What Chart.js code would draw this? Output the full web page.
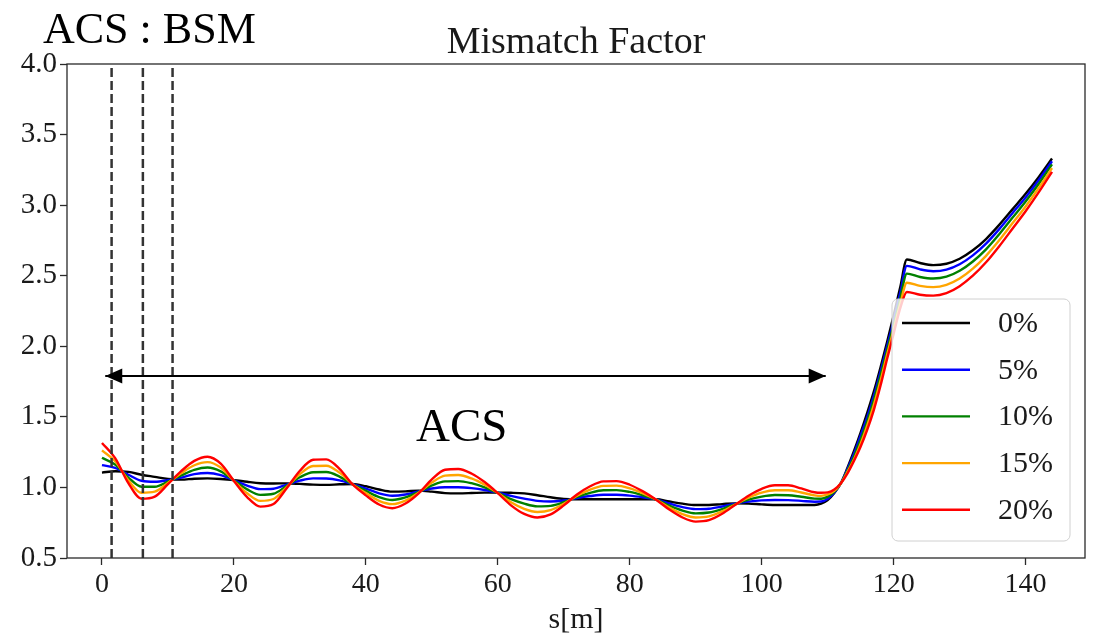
<!DOCTYPE html>
<html><head><meta charset="utf-8">
<script src="https://cdn.jsdelivr.net/npm/chart.js@4/dist/chart.umd.min.js"></script>
<style>html,body{margin:0;padding:0;background:#fff;} canvas{display:block;}</style>
</head><body>
<canvas id="c" width="1095" height="642"></canvas>
<script>
// ---- data ----
const s = [0,2,4,6,8,10,12,14,16,18,20,22,24,26,28,30,32,34,36,38,40,42,44,46,48,50,52,54,56,58,60,62,64,66,68,70,72,74,76,78,80,82,84,86,88,90,92,94,96,98,100,102,104,106,108,
  109,110,111,112,113,114,115,116,117,118,119,120,121,122,
  124,126,128,130,132,134,136,138,140,142,144];
const mf0 = [1.105,1.115,1.110,1.090,1.075,1.060,1.055,1.062,1.064,1.060,
  1.052,1.040,1.030,1.028,1.029,1.025,1.020,1.018,1.022,1.024,
  1.008,0.985,0.970,0.972,0.977,0.970,0.960,0.958,0.960,0.963,
  0.963,0.962,0.958,0.945,0.930,0.918,0.916,0.916,0.916,0.916,
  0.916,0.916,0.916,0.900,0.885,0.875,0.876,0.882,0.887,0.885,
  0.880,0.876,0.875,0.875,0.876,
  0.885,0.910,0.960,1.030,1.140,1.260,1.390,1.530,1.680,1.850,2.030,2.220,2.420,2.615,
  2.590,2.575,2.585,2.620,2.680,2.760,2.860,2.970,3.080,3.200,3.330];
const mf5 = [1.158,1.138,1.090,1.047,1.040,1.051,1.070,1.094,1.102,1.087,
  1.050,1.013,0.988,0.991,1.020,1.048,1.064,1.063,1.050,1.023,
  0.992,0.958,0.941,0.950,0.972,0.992,1.001,1.001,0.995,0.982,
  0.962,0.940,0.921,0.905,0.900,0.907,0.925,0.939,0.948,0.948,
  0.942,0.930,0.915,0.886,0.860,0.846,0.849,0.865,0.884,0.899,
  0.908,0.911,0.910,0.905,0.899,
  0.900,0.920,0.965,1.030,1.130,1.240,1.370,1.500,1.650,1.820,2.000,2.180,2.380,2.570,
  2.545,2.532,2.543,2.581,2.644,2.727,2.830,2.943,3.055,3.178,3.311];
const mf10 = [1.210,1.162,1.070,1.005,1.005,1.041,1.085,1.125,1.141,1.114,
  1.049,0.986,0.947,0.955,1.011,1.072,1.108,1.109,1.077,1.022,
  0.976,0.932,0.911,0.929,0.967,1.014,1.043,1.045,1.030,1.001,
  0.961,0.917,0.885,0.866,0.869,0.895,0.933,0.962,0.980,0.981,
  0.968,0.944,0.914,0.871,0.836,0.816,0.822,0.847,0.882,0.913,
  0.935,0.946,0.945,0.934,0.921,
  0.920,0.935,0.970,1.030,1.120,1.220,1.340,1.470,1.620,1.790,1.970,2.150,2.340,2.515,
  2.491,2.480,2.493,2.535,2.601,2.687,2.794,2.910,3.026,3.152,3.289];
const mf15 = [1.263,1.185,1.051,0.962,0.970,1.032,1.100,1.157,1.179,1.141,
  1.047,0.959,0.905,0.918,1.003,1.095,1.152,1.154,1.105,1.022,
  0.960,0.905,0.882,0.907,0.963,1.035,1.084,1.088,1.064,1.019,
  0.960,0.895,0.848,0.826,0.839,0.884,0.942,0.985,1.011,1.013,
  0.993,0.958,0.914,0.857,0.811,0.787,0.795,0.830,0.879,0.927,
  0.963,0.980,0.980,0.964,0.944,
  0.940,0.950,0.975,1.030,1.110,1.200,1.310,1.440,1.585,1.755,1.940,2.120,2.300,2.450,
  2.428,2.419,2.435,2.480,2.550,2.641,2.751,2.871,2.991,3.122,3.262];
const mf20 = [1.315,1.208,1.031,0.920,0.935,1.023,1.115,1.188,1.217,1.168,
  1.046,0.932,0.864,0.882,0.994,1.118,1.196,1.199,1.132,1.021,
  0.944,0.879,0.853,0.886,0.958,1.057,1.125,1.131,1.099,1.038,
  0.959,0.873,0.812,0.787,0.809,0.873,0.950,1.008,1.043,1.045,
  1.019,0.972,0.913,0.843,0.787,0.758,0.768,0.813,0.877,0.941,
  0.990,1.015,1.015,0.993,0.966,
  0.962,0.965,0.985,1.030,1.100,1.190,1.290,1.410,1.550,1.720,1.910,2.090,2.270,2.385,
  2.365,2.359,2.377,2.426,2.500,2.595,2.709,2.833,2.957,3.092,3.236];
const seriesLabels = ['0%','5%','10%','15%','20%'];
const seriesColors = ['#000000','#0000ff','#008000','#ffa500','#ff0000'];
const bsmMarkers = [1.46, 6.2, 10.7];   // dashed vertical lines, s [m]
const acsArrow = [0.5, 109.7];          // arrow ends, s [m]
const arrowY = 1.79;
const xRange = [-5.3, 149];
const yRange = [0.5, 4.0];

// ---- build ----
const FONT = '"Liberation Serif", "Times New Roman", serif';
const TXT = '#1a1a1a';
const pts = arr => s.map((v,i)=>({x:v, y:arr[i]}));
const seriesData = [mf0, mf5, mf10, mf15, mf20];
const datasets = seriesData.map((arr,i)=>({
  label: seriesLabels[i], data: pts(arr), borderColor: seriesColors[i],
  borderWidth: 2.4, pointRadius: 0, tension: 0, cubicInterpolationMode:'monotone',
  fill:false, order: 10 - i, isSeries:true
}));
bsmMarkers.forEach(m=>datasets.push({
  label:'', data:[{x:m,y:yRange[0]},{x:m,y:yRange[1]}], borderColor:'#333',
  borderWidth:2.5, borderDash:[9,4], pointRadius:0, order:-1
}));
datasets.push({label:'', data:[{x:acsArrow[0],y:arrowY},{x:acsArrow[1],y:arrowY}],
  borderColor:'#000', borderWidth:2, pointRadius:0, order:-2});

const overlay = {
  id:'overlay',
  afterDatasetsDraw(chart){
    const {ctx, chartArea:a, scales:{x,y}} = chart;
    ctx.save();
    ctx.strokeStyle='#2a2a2a'; ctx.lineWidth=1.3;
    ctx.strokeRect(a.left, a.top, a.right-a.left, a.bottom-a.top);
    const py = y.getPixelForValue(arrowY);
    const lx = x.getPixelForValue(acsArrow[0]), rx = x.getPixelForValue(acsArrow[1]);
    ctx.fillStyle='#000';
    ctx.beginPath(); ctx.moveTo(rx,py); ctx.lineTo(rx-17,py-7.5); ctx.lineTo(rx-17,py+7.5); ctx.closePath(); ctx.fill();
    ctx.beginPath(); ctx.moveTo(lx,py); ctx.lineTo(lx+17,py-7.5); ctx.lineTo(lx+17,py+7.5); ctx.closePath(); ctx.fill();
    ctx.restore();
  },
  afterDraw(chart){
    const {ctx, chartArea:a} = chart;
    ctx.save();
    // legend
    const bx=892, by=299, bw=178, bh=242, r=6;
    ctx.beginPath();
    ctx.moveTo(bx+r,by); ctx.lineTo(bx+bw-r,by); ctx.arcTo(bx+bw,by,bx+bw,by+r,r);
    ctx.lineTo(bx+bw,by+bh-r); ctx.arcTo(bx+bw,by+bh,bx+bw-r,by+bh,r);
    ctx.lineTo(bx+r,by+bh); ctx.arcTo(bx,by+bh,bx,by+bh-r,r);
    ctx.lineTo(bx,by+r); ctx.arcTo(bx,by,bx+r,by,r); ctx.closePath();
    ctx.fillStyle='rgba(255,255,255,0.8)'; ctx.fill();
    ctx.strokeStyle='#d0d0d0'; ctx.lineWidth=1; ctx.stroke();
    ctx.font = '30px ' + FONT; ctx.textBaseline='middle'; ctx.textAlign='left';
    chart.data.datasets.filter(d=>d.isSeries).forEach((d,i)=>{
      const yy = 323 + i*46.7;
      ctx.strokeStyle=d.borderColor; ctx.lineWidth=2.4;
      ctx.beginPath(); ctx.moveTo(902,yy); ctx.lineTo(970,yy); ctx.stroke();
      ctx.fillStyle=TXT; ctx.fillText(d.label, 998, yy+1);
    });
    // texts
    ctx.fillStyle='#000'; ctx.textBaseline='alphabetic';
    ctx.font = '44px ' + FONT;
    ctx.fillText('ACS : BSM', 43, 43);
    ctx.font = '47px ' + FONT;
    ctx.fillText('ACS', 416, 441);
    ctx.font = '38px ' + FONT; ctx.textAlign='center'; ctx.fillStyle=TXT;
    ctx.fillText('Mismatch Factor', (a.left+a.right)/2, 53);
    ctx.restore();
  }
};

new Chart(document.getElementById('c'), {
  type:'line',
  data:{datasets},
  options:{
    responsive:false, animation:false,
    layout:{padding:{top:64, right:10, left:0, bottom:0}},
    plugins:{legend:{display:false}, tooltip:{enabled:false}, title:{display:false}},
    scales:{
      x:{type:'linear', min:xRange[0], max:xRange[1],
        afterFit:sc=>{sc.height=84;},
        border:{display:false},
        grid:{display:true, drawOnChartArea:false, drawTicks:true, tickLength:7, tickColor:'#2a2a2a', tickWidth:1.3},
        ticks:{stepSize:20, includeBounds:false, color:TXT, font:{family:FONT, size:28}, padding:3, maxRotation:0,
          callback:v=>String(v)},
        title:{display:true, text:'s[m]', color:TXT, font:{family:FONT, size:30}, padding:{top:0,bottom:4}}
      },
      y:{type:'linear', min:yRange[0], max:yRange[1],
        afterFit:sc=>{sc.width=67;},
        border:{display:false},
        grid:{display:true, drawOnChartArea:false, drawTicks:true, tickLength:7, tickColor:'#2a2a2a', tickWidth:1.3},
        ticks:{stepSize:0.5, includeBounds:false, color:TXT, font:{family:FONT, size:29}, padding:3,
          callback:v=>Number(v).toFixed(1)}
      }
    }
  },
  plugins:[overlay]
});
</script>
</body></html>
